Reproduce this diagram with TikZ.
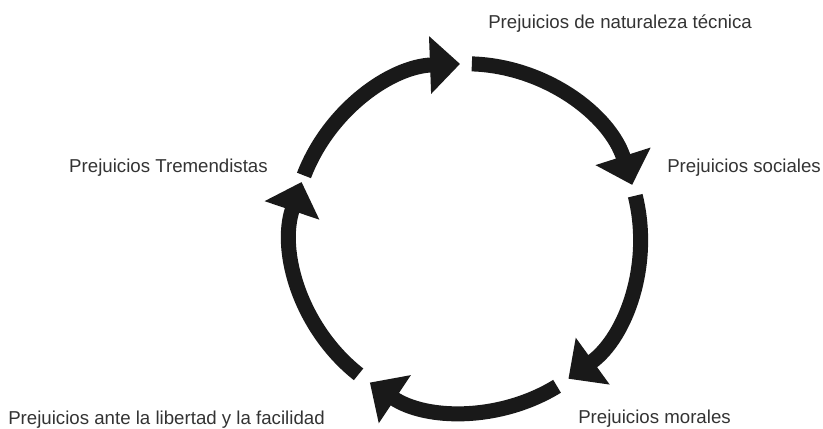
\documentclass[tikz,border=0pt]{standalone}
\usepackage{fontspec}
\setmainfont{Liberation Sans}
\usetikzlibrary{arrows.meta}
\tikzset{
  cyclearrow/.style={line width=11.25pt, black!90, -{Triangle[length=22.5pt, width=42pt]}},
  stagelabel/.style={font=\fontsize{14}{16}\selectfont, text=black!80, inner sep=0pt}
}
\begin{document}
\begin{tikzpicture}[x=0.75pt, y=0.75pt]
  \useasboundingbox (0,0) rectangle (823,428);
  \coordinate (c) at (466.4,190.2);
  % Cycle arrows (clockwise)
  \foreach \s/\e in {159/92.1, 88.2/17.7, 14/-54.1, -58.6/-123.7, -128.3/-198.7} {
    \draw[cyclearrow] (c) ++(\s:174) arc[start angle=\s, end angle=\e, radius=174];
  }
  % Labels
  \node[stagelabel, anchor=base west] (tecnica) at (488,399) {Prejuicios de naturaleza técnica};
  \node[stagelabel, anchor=base west] (sociales) at (667,255) {Prejuicios sociales};
  \node[stagelabel, anchor=base west] (morales) at (578,5) {Prejuicios morales};
  \node[stagelabel, anchor=base west] (libertad) at (8,4) {Prejuicios ante la libertad y la facilidad};
  \node[stagelabel, anchor=base east] (tremend) at (268,255) {Prejuicios Tremendistas};
\end{tikzpicture}
\end{document}
